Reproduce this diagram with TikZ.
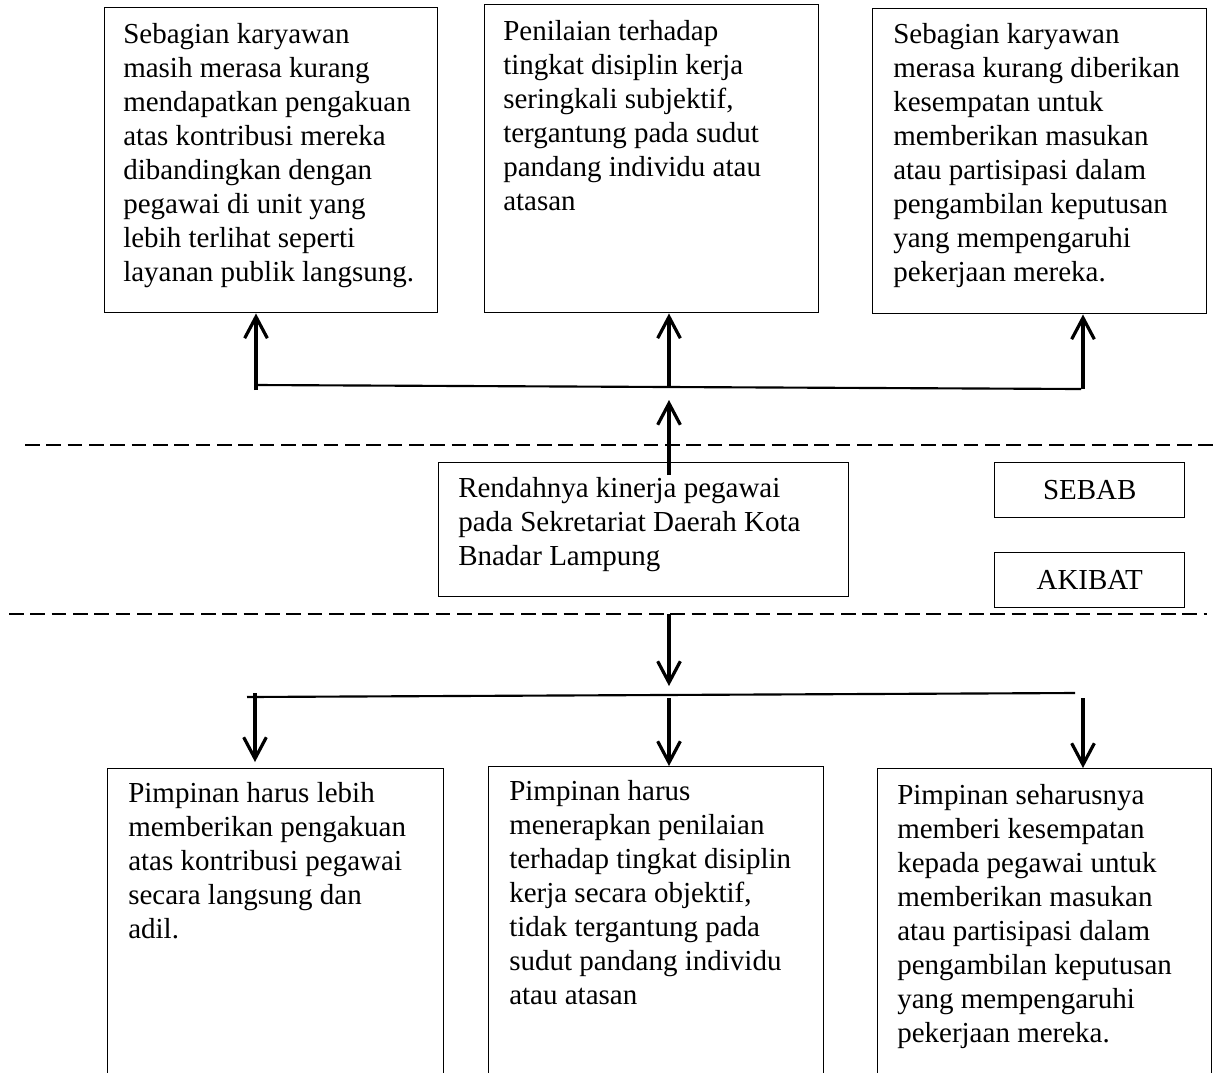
\documentclass[tikz,border=0pt]{standalone}
\usepackage{fontspec}
\setmainfont{Liberation Serif}
\usetikzlibrary{arrows.meta}
\newcommand{\boxlines}[1]{\begin{tabular}[t]{@{}l@{}}#1\end{tabular}}
\begin{document}
\begin{tikzpicture}[x=0.75pt,y=-0.75pt,
  box/.style={draw=black, line width=1.1pt, inner sep=0pt, anchor=north west},
  bigfont/.style={font=\fontsize{21.75}{25.5}\selectfont},
  txt/.style={bigfont, inner sep=0pt, anchor=base west},
  conn/.style={line width=1.6pt},
  arr/.style={line width=2.4pt, -{Straight Barb[length=16pt,width=17pt]}},
  sepline/.style={line width=2.2pt, dash pattern=on 11pt off 5pt}]
\useasboundingbox (0,0) rectangle (1217,1072);
\clip (0,0) rectangle (1217,1072);
\fill[white] (0,0) rectangle (1217,1072);

% top boxes
\node[box, minimum width=249.75pt, minimum height=228.75pt] (t1) at (104,7) {};
\node[box, minimum width=250.5pt, minimum height=231pt] (t2) at (484,4) {};
\node[box, minimum width=250.5pt, minimum height=228.75pt] (t3) at (872,8) {};

\node[txt] (t1t) at (123,43) {\boxlines{Sebagian karyawan\\masih merasa kurang\\mendapatkan pengakuan\\atas kontribusi mereka\\dibandingkan dengan\\pegawai di unit yang\\lebih terlihat seperti\\layanan publik langsung.}};
\node[txt] (t2t) at (503,40) {\boxlines{Penilaian terhadap\\tingkat disiplin kerja\\seringkali subjektif,\\tergantung pada sudut\\pandang individu atau\\atasan}};
\node[txt] (t3t) at (893,43) {\boxlines{Sebagian karyawan\\merasa kurang diberikan\\kesempatan untuk\\memberikan masukan\\atau partisipasi dalam\\pengambilan keputusan\\yang mempengaruhi\\pekerjaan mereka.}};

% centre boxes
\node[box, minimum width=307.5pt, minimum height=100.5pt] (c) at (438,462) {};
\node[txt] (ct) at (458,497) {\boxlines{Rendahnya kinerja pegawai\\pada Sekretariat Daerah Kota\\Bnadar Lampung}};
\node[box, bigfont, minimum width=142.5pt, minimum height=41.25pt] (sebab) at (994,462) {SEBAB};
\node[box, bigfont, minimum width=142.5pt, minimum height=41.25pt] (akibat) at (994,552) {AKIBAT};

% bottom boxes
\node[box, minimum width=252pt, minimum height=234pt] (b1) at (107,768) {};
\node[box, minimum width=251.25pt, minimum height=235.5pt] (b2) at (488,766) {};
\node[box, minimum width=250.5pt, minimum height=234pt] (b3) at (877,768) {};

\node[txt] (b1t) at (128,802) {\boxlines{Pimpinan harus lebih\\memberikan pengakuan\\atas kontribusi pegawai\\secara langsung dan\\adil.}};
\node[txt] (b2t) at (509,800) {\boxlines{Pimpinan harus\\menerapkan penilaian\\terhadap tingkat disiplin\\kerja secara objektif,\\tidak tergantung pada\\sudut pandang individu\\atau atasan}};
\node[txt] (b3t) at (897,804) {\boxlines{Pimpinan seharusnya\\memberi kesempatan\\kepada pegawai untuk\\memberikan masukan\\atau partisipasi dalam\\pengambilan keputusan\\yang mempengaruhi\\pekerjaan mereka.}};

% separators
\draw[sepline] (25,445) -- (1217,445);
\draw[sepline] (9,614) -- (1207,614);

% upper connectors
\coordinate (hl) at (256,385);
\coordinate (hr) at (1081,389);
\coordinate (jl) at (256,390);
\coordinate (jm) at (669,387);
\coordinate (jr) at (1083,389);
\draw[conn] (hl) -- (hr);
\draw[arr] (jl) -- (jl |- t1.south);
\draw[arr] (jm) -- (jm |- t2.south);
\draw[arr] (jr) -- (jr |- t3.south);
\coordinate (cup) at (669,475);
\coordinate (cupend) at (669,400);
\draw[arr] (cup) -- (cupend);

% lower connectors
\coordinate (dtop) at (669,614);
\coordinate (dend) at (669,686);
\draw[arr] (dtop) -- (dend);
\coordinate (gl) at (247,697);
\coordinate (gr) at (1075,693);
\draw[conn] (gl) -- (gr);
\coordinate (kl) at (255,693);
\coordinate (km) at (669,698);
\coordinate (kr) at (1083,698);
\draw[arr] (kl) -- ([yshift=4.5pt]kl |- b1.north);
\draw[arr] (km) -- (km |- b2.north);
\draw[arr] (kr) -- (kr |- b3.north);
\end{tikzpicture}
\end{document}
